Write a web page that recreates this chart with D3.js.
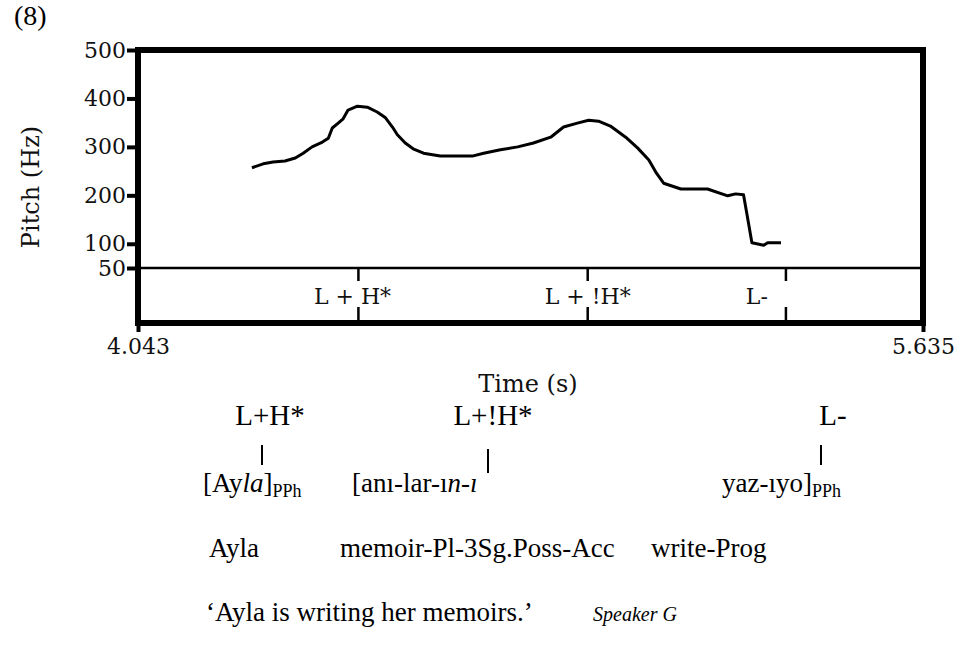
<!DOCTYPE html>
<html>
<head>
<meta charset="utf-8">
<script src="https://cdn.jsdelivr.net/npm/d3@7"></script>
<style>
  body { margin: 0; background: #fff; }
  svg { display: block; }
</style>
</head>
<body>
<script>
// pitch track (time in s, f0 in Hz)
const pitchT = [4.274, 4.297, 4.317, 4.341, 4.362, 4.378, 4.396, 4.417, 4.429, 4.437,
  4.449, 4.459, 4.469, 4.488, 4.508, 4.528, 4.545, 4.559, 4.569, 4.585, 4.601, 4.622,
  4.656, 4.721, 4.744, 4.778, 4.813, 4.845, 4.880, 4.906, 4.934, 4.957, 4.977, 5.001,
  5.032, 5.056, 5.079, 5.093, 5.109, 5.144, 5.198, 5.239, 5.255, 5.271, 5.280, 5.288,
  5.312, 5.320, 5.347];
const pitchHz = [257, 265, 269, 271, 277, 287, 300, 310, 318, 339,
  349, 358, 376, 384, 382, 372, 360, 341, 325, 308, 296, 287,
  281, 281, 287, 294, 300, 308, 320, 341, 349, 355, 353, 343,
  320, 298, 273, 248, 225, 213, 213, 199, 203, 201, 149, 102,
  97, 102, 102];

const yTicks = [50, 100, 200, 300, 400, 500];
const xRange = [4.043, 5.635];

// tone tier: boundary times and labels
const toneTimes = [4.490, 4.955, 5.357];
const toneLabels = ["L + H*", "L + !H*", "L-"];
const toneLabelT = [4.478, 4.955, 5.298];

const W = 960, H = 656;
const svg = d3.select("body").append("svg")
  .attr("width", W).attr("height", H);

const x = d3.scaleLinear().domain(xRange).range([138, 923]);
const y = d3.scaleLinear().domain([50, 500]).range([268, 50]);
const tierTop = 268, tierBot = 323;
const praatFont = "DejaVu Serif";

// example number
svg.append("text").attr("x", 14).attr("y", 25)
  .attr("font-family", "Liberation Serif").attr("font-size", 28)
  .text("(8)");

// y axis
const yAxis = svg.append("g")
  .attr("transform", "translate(136,0)")
  .call(d3.axisLeft(y).tickValues(yTicks).tickSize(9).tickPadding(1));
yAxis.select(".domain").remove();
yAxis.selectAll("line").attr("stroke-width", 4);
yAxis.selectAll("text")
  .attr("font-family", praatFont).attr("font-size", 22).attr("fill", "#111");

// x axis (end ticks only)
const xAxis = svg.append("g")
  .attr("transform", `translate(0,${tierBot})`)
  .call(d3.axisBottom(x).tickValues(xRange).tickFormat(d3.format(".3f"))
    .tickSize(9).tickPadding(6));
xAxis.select(".domain").remove();
xAxis.selectAll("line").attr("stroke-width", 4);
xAxis.selectAll("text")
  .attr("font-family", praatFont).attr("font-size", 22).attr("fill", "#111");

// frame
const frame = svg.append("g").attr("fill", "none").attr("stroke", "#000");
frame.append("rect")
  .attr("x", x(xRange[0])).attr("y", y(500))
  .attr("width", x(xRange[1]) - x(xRange[0]))
  .attr("height", tierBot - y(500))
  .attr("stroke-width", 6);
frame.append("line")
  .attr("x1", x(xRange[0])).attr("x2", x(xRange[1]))
  .attr("y1", tierTop).attr("y2", tierTop)
  .attr("stroke-width", 2.5);

// pitch contour
const pts = pitchT.map((t, i) => [t, pitchHz[i]]);
svg.append("path")
  .datum(pts)
  .attr("fill", "none")
  .attr("stroke", "#000")
  .attr("stroke-width", 3)
  .attr("stroke-linejoin", "round")
  .attr("d", d3.line().x(d => x(d[0])).y(d => y(d[1])));

// tone tier
const tier = svg.append("g");
tier.selectAll("line.top").data(toneTimes).join("line")
  .attr("x1", d => x(d)).attr("x2", d => x(d))
  .attr("y1", tierTop).attr("y2", tierTop + 13)
  .attr("stroke", "#000").attr("stroke-width", 2.5);
tier.selectAll("line.bot").data(toneTimes).join("line")
  .attr("x1", d => x(d)).attr("x2", d => x(d))
  .attr("y1", tierBot - 16).attr("y2", tierBot)
  .attr("stroke", "#000").attr("stroke-width", 2.5);
tier.selectAll("text").data(toneLabels).join("text")
  .attr("x", (d, i) => x(toneLabelT[i]))
  .attr("y", 304)
  .attr("text-anchor", "middle")
  .attr("font-family", praatFont).attr("font-size", 22).attr("fill", "#111")
  .attr("xml:space", "preserve")
  .text(d => d);

// axis titles
svg.append("text")
  .attr("transform", "translate(39,187) rotate(-90)")
  .attr("text-anchor", "middle")
  .attr("font-family", praatFont).attr("font-size", 24).attr("fill", "#111")
  .text("Pitch (Hz)");
svg.append("text")
  .attr("x", 528).attr("y", 392)
  .attr("text-anchor", "middle")
  .attr("font-family", praatFont).attr("font-size", 24).attr("fill", "#111")
  .text("Time (s)");

// interlinear annotation below the chart
const gloss = svg.append("g")
  .attr("font-family", "Liberation Serif").attr("font-size", 27).attr("fill", "#000");

const tones = [["L+H*", 270], ["L+!H*", 493], ["L-", 833]];
tones.forEach(([t, cx]) => {
  gloss.append("text").attr("x", cx).attr("y", 425)
    .attr("font-size", 29)
    .attr("text-anchor", "middle").text(t);
});

const bars = [[262, 445, 465], [488, 449, 473], [821, 445, 465]];
bars.forEach(([bx, y1, y2]) => {
  gloss.append("line").attr("x1", bx).attr("x2", bx).attr("y1", y1).attr("y2", y2)
    .attr("stroke", "#000").attr("stroke-width", 2);
});

// word row: pieces [text, style] where style: n normal, i italic, s subscript
const words = [
  [203, [["[Ay", "n"], ["la", "i"], ["]", "n"], ["PPh", "s"]]],
  [352, [["[anı-lar-ı", "n"], ["n-ı", "i"]]],
  [722, [["yaz-ıyo]", "n"], ["PPh", "s"]]]
];
words.forEach(([wx, parts]) => {
  const t = gloss.append("text").attr("x", wx).attr("y", 492);
  parts.forEach(([s, st]) => {
    const ts = t.append("tspan").text(s);
    if (st === "i") ts.attr("font-style", "italic");
    if (st === "s") ts.attr("font-size", 18).attr("dy", 5);
  });
});

const glossRow = [["Ayla", 209], ["memoir-Pl-3Sg.Poss-Acc", 340], ["write-Prog", 651]];
glossRow.forEach(([s, gx]) => {
  gloss.append("text").attr("x", gx).attr("y", 557).text(s);
});

gloss.append("text").attr("x", 206).attr("y", 621)
  .text("\u2018Ayla is writing her memoirs.\u2019");
gloss.append("text").attr("x", 593).attr("y", 621)
  .attr("font-size", 20).attr("font-style", "italic")
  .text("Speaker G");
</script>
</body>
</html>
